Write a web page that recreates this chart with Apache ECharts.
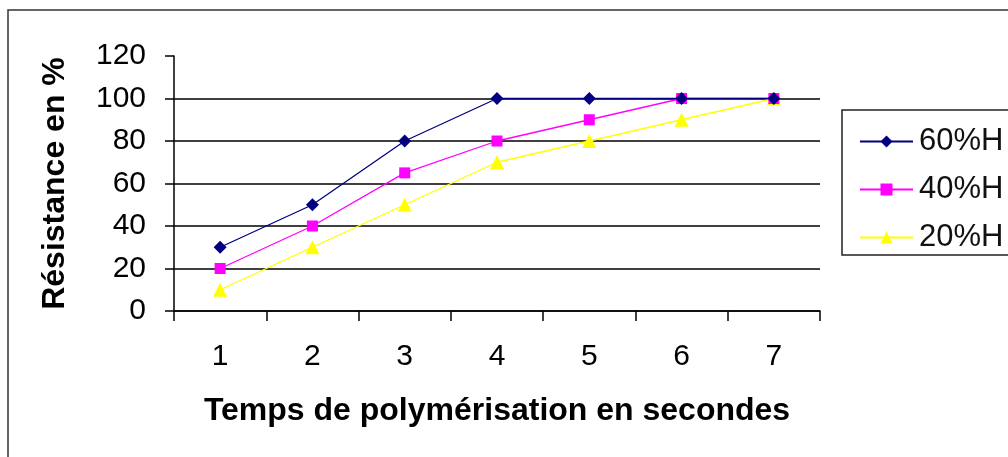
<!DOCTYPE html>
<html><head><meta charset="utf-8">
<script src="https://cdn.jsdelivr.net/npm/echarts@6/dist/echarts.min.js"></script>
<style>html,body{margin:0;padding:0;background:#fff}#c{width:1008px;height:457px}</style>
</head><body><div id="c"></div>
<script>
const categories = ['1','2','3','4','5','6','7'];
const s60 = [30,50,80,100,100,100,100];
const s40 = [20,40,65,80,90,100,100];
const s20 = [10,30,50,70,80,90,100];
const yTicks = {min:0, max:120, interval:20};

const chart = echarts.init(document.getElementById('c'));
const font = 'Arial, "Liberation Sans", sans-serif';
function ser(name, data, color, symbol, size){
  return {name, type:'line', data, symbol, symbolSize:size, showAllSymbol:true,
    lineStyle:{color, width:1.3}, itemStyle:{color, borderWidth:0}, animation:false};
}
chart.setOption({
  animation:false,
  grid:{left:174, right:188, top:56, bottom:146},
  graphic:[
    {type:'rect', shape:{x:8,y:10,width:1100,height:500}, style:{fill:'none', stroke:'#333', lineWidth:1.5}, z:-1},
    {type:'rect', shape:{x:842,y:110,width:300,height:145}, style:{fill:'#fff', stroke:'#222', lineWidth:1.5}, z:0}
  ],
  legend:{left:854, top:121, orient:'vertical', itemGap:17, itemWidth:53, itemHeight:15,
    textStyle:{fontFamily:font, fontSize:31, color:'#111', padding:[0,0,0,1]},
    data:['60%H','40%H','20%H'], z:5},
  xAxis:{type:'category', data:categories, boundaryGap:true,
    axisLine:{lineStyle:{color:'#000', width:1.5}},
    axisTick:{show:true, inside:false, length:10, lineStyle:{color:'#000', width:1.5}},
    axisLabel:{fontFamily:font, fontSize:30, color:'#000', margin:31},
    name:'Temps de polymérisation en secondes', nameLocation:'middle', nameGap:84,
    nameTextStyle:{fontFamily:font, fontSize:32, fontWeight:'bold', color:'#000'}
  },
  yAxis:{type:'value', min:yTicks.min, max:yTicks.max, interval:yTicks.interval,
    axisLine:{show:true, lineStyle:{color:'#000', width:1.5}},
    axisTick:{show:true, length:9, lineStyle:{color:'#000', width:1.5}},
    axisLabel:{fontFamily:font, fontSize:30, color:'#000', margin:28},
    splitLine:{show:true, lineStyle:{color:['#000','#000','#000','#000','#000','#000','rgba(0,0,0,0)'], width:1.5}},
    name:'Résistance en %', nameLocation:'middle', nameGap:103,
    nameTextStyle:{fontFamily:font, fontSize:32, fontWeight:'bold', color:'#000'}
  },
  series:[
    ser('20%H', s20, '#FFFF00', 'triangle', 14),
    ser('40%H', s40, '#FF00FF', 'rect', 11),
    ser('60%H', s60, '#000080', 'diamond', 13)
  ]
});
</script></body></html>
